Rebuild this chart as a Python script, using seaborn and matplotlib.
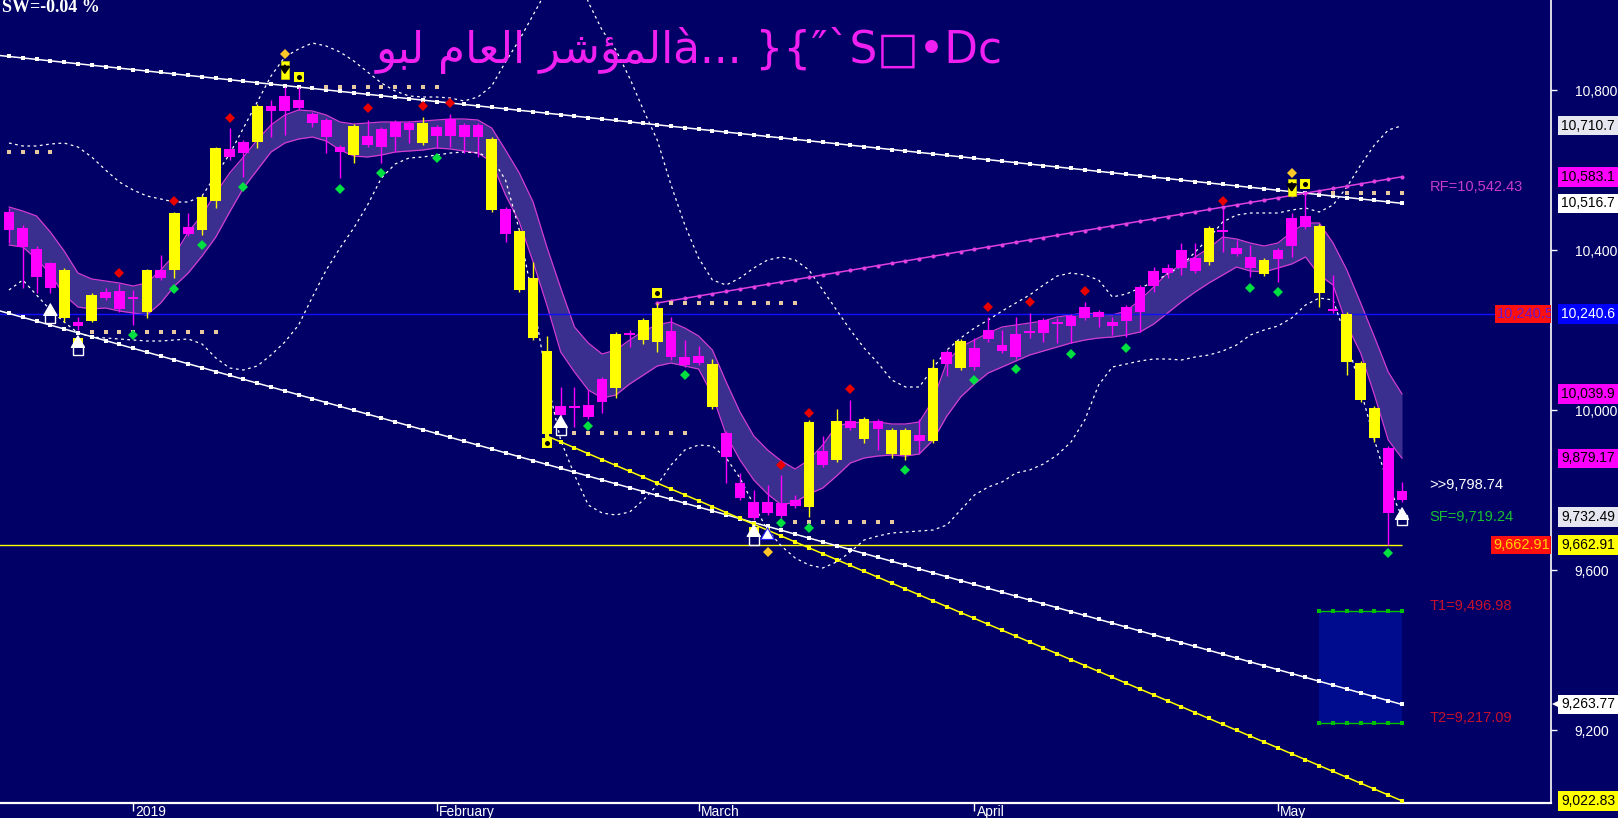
import numpy as np
import pandas as pd
import matplotlib
matplotlib.use("Agg")
import matplotlib.pyplot as plt
import matplotlib.transforms as mtrans
from matplotlib.patches import Rectangle
import seaborn as sns

# ---------------- data ----------------
opens = [10495, 10455, 10402.5, 10367.5, 10230, 10220, 10222.5, 10295, 10297.5, 10282.5,
         10245, 10350, 10350, 10457.5, 10450, 10522.5, 10652.5, 10670, 10670, 10760,
         10785, 10775, 10740, 10725, 10657.5, 10637.5, 10685, 10702.5, 10720, 10717.5,
         10667.5, 10707.5, 10727.5, 10712.5, 10712.5, 10500, 10502.5, 10300, 10180, 9940,
         10010, 10007.5, 10012.5, 10077.5, 10055, 10190, 10175, 10170, 10197.5, 10132.5,
         10135, 10007.5, 9942.5, 9817.5, 9770, 9770, 9767.5, 9775, 9757.5, 9897.5,
         9875, 9972.5, 9927.5, 9972.5, 9890, 9887.5, 9937.5, 9922.5, 10145, 10105,
         10155, 10200, 10162.5, 10190, 10197.5, 10225, 10217.5, 10235, 10257.5, 10245,
         10220, 10257.5, 10307.5, 10347.5, 10355, 10400, 10380, 10370, 10450, 10405,
         10382.5, 10340, 10400, 10480, 10485, 10292.5, 10252.5, 10120, 10025, 9930,
         9905, 9798.74]
highs = [10505, 10462.5, 10410, 10370, 10355, 10232.5, 10292.5, 10305, 10315, 10300,
         10352.5, 10387.5, 10495, 10492.5, 10537.5, 10657.5, 10705, 10675, 10765, 10775,
         10807.5, 10807.5, 10745, 10730, 10662.5, 10715, 10725, 10707.5, 10725, 10722.5,
         10732.5, 10712.5, 10740, 10717.5, 10717.5, 10682.5, 10507.5, 10452.5, 10370, 10185,
         10057.5, 10057.5, 10050, 10082.5, 10195, 10200, 10230, 10267.5, 10232.5, 10175,
         10160, 10127.5, 9947.5, 9842.5, 9800, 9812.5, 9837.5, 9787.5, 9975, 9935,
         10002.5, 10025, 9982.5, 9977.5, 9955, 9955, 9977.5, 10127.5, 10150, 10177.5,
         10180, 10232.5, 10200, 10232.5, 10242.5, 10230, 10230, 10240, 10270, 10250,
         10232.5, 10262.5, 10312.5, 10357.5, 10365, 10417.5, 10417.5, 10460, 10505, 10425,
         10412.5, 10380, 10405, 10492.5, 10542.43, 10465, 10337.5, 10245, 10122.5, 10010,
         9910, 9820]
lows = [10417.5, 10305, 10292.5, 10292.5, 10220, 10200, 10220, 10275, 10245, 10212.5,
        10230, 10325, 10330, 10435, 10437.5, 10505, 10625, 10582.5, 10655, 10682.5,
        10687.5, 10750, 10707.5, 10642.5, 10580, 10617.5, 10657.5, 10617.5, 10645, 10667.5,
        10662.5, 10655, 10657.5, 10642.5, 10632.5, 10495, 10420, 10295, 10175, 9935,
        9982.5, 9957.5, 9977.5, 9992.5, 10030, 10157.5, 10165, 10145, 10125, 10107.5,
        10112.5, 10002.5, 9817.5, 9775, 9725, 9737.5, 9730, 9755, 9732.5, 9857.5,
        9870, 9950, 9917.5, 9900, 9880, 9875, 9892.5, 9917.5, 10085, 10100,
        10100, 10170, 10142.5, 10127.5, 10180, 10170, 10167.5, 10167.5, 10225, 10207.5,
        10187.5, 10182.5, 10195, 10295, 10330, 10337.5, 10342.5, 10362.5, 10395, 10385,
        10332.5, 10335, 10320, 10382.5, 10452.5, 10257.5, 10242.5, 10087.5, 10020, 9920,
        9662.91, 9770]
closes = [10450, 10407.5, 10332.5, 10305, 10350, 10210, 10287.5, 10280, 10252.5, 10277.5,
          10350, 10330, 10492.5, 10440, 10532.5, 10655, 10632.5, 10642.5, 10760, 10747.5,
          10747.5, 10755, 10717.5, 10682.5, 10645, 10710, 10662.5, 10657.5, 10682.5, 10700,
          10717.5, 10685, 10685, 10682.5, 10682.5, 10677.5, 10440, 10447.5, 10330, 10147.5,
          9987.5, 10005, 9982.5, 10020, 10190, 10187.5, 10225, 10255, 10132.5, 10112.5,
          10117.5, 10115, 9882.5, 9780, 9730, 9742.5, 9735, 9760, 9970, 9862.5,
          9972.5, 9955, 9977.5, 9952.5, 9950, 9950, 9922.5, 10105, 10115, 10172.5,
          10107.5, 10177.5, 10147.5, 10132.5, 10192.5, 10192.5, 10215, 10210, 10230, 10232.5,
          10210, 10222.5, 10245, 10310, 10342.5, 10355, 10347.5, 10455, 10445, 10390,
          10355, 10375, 10377.5, 10410, 10457.5, 10460, 10247.5, 10240, 10117.5, 10005,
          9742.5, 9775]

env_upper = [10507.5, 10497.5, 10485, 10445, 10397.5, 10342.5, 10327.5, 10322.5, 10317.5, 10310,
             10317.5, 10350, 10387.5, 10445, 10487.5, 10542.5, 10592.5, 10632.5, 10675, 10712.5,
             10737.5, 10750, 10747.5, 10737.5, 10720, 10715, 10717.5, 10720, 10720, 10720,
             10722.5, 10725, 10727.5, 10727.5, 10725, 10705, 10650, 10592.5, 10520, 10407.5,
             10305, 10207.5, 10167.5, 10140, 10150, 10175, 10197.5, 10212.5, 10220, 10205,
             10185, 10150, 10070, 9995, 9935, 9900, 9872.5, 9852.5, 9875, 9912.5,
             9960, 9967.5, 9970, 9970, 9965, 9965, 9970, 10025, 10120, 10157.5,
             10175, 10192.5, 10207.5, 10212.5, 10217.5, 10222.5, 10232.5, 10237.5, 10242.5, 10240,
             10237.5, 10247.5, 10275, 10307.5, 10342.5, 10362.5, 10382.5, 10405, 10432.5, 10427.5,
             10417.5, 10410, 10417.5, 10445, 10467.5, 10467.5, 10417.5, 10350, 10267.5, 10182.5,
             10095, 10039.9]
env_lower = [10412.5, 10407.5, 10377.5, 10340, 10287.5, 10257.5, 10252.5, 10255, 10247.5, 10242.5,
             10237.5, 10267.5, 10310, 10342.5, 10385, 10432.5, 10495, 10555, 10600, 10645,
             10667.5, 10677.5, 10682.5, 10672.5, 10650, 10635, 10632.5, 10637.5, 10645, 10647.5,
             10650, 10655, 10652.5, 10647.5, 10642.5, 10620, 10537.5, 10470, 10370, 10262.5,
             10145, 10095, 10050, 10030, 10037.5, 10065, 10087.5, 10110, 10117.5, 10110,
             10102.5, 10037.5, 9937.5, 9875, 9825, 9790, 9762.5, 9770, 9790, 9805,
             9835, 9867.5, 9880, 9885, 9887.5, 9885, 9890, 9925, 9985, 10032.5,
             10065, 10092.5, 10107.5, 10122.5, 10137.5, 10147.5, 10157.5, 10167.5, 10175, 10180,
             10182.5, 10187.5, 10195, 10215, 10242.5, 10270, 10295, 10317.5, 10337.5, 10357.5,
             10347.5, 10345, 10355, 10365, 10382.5, 10337.5, 10312.5, 10212.5, 10142.5, 10037.5,
             9925, 9879.17]
bb_upper = [10667.5, 10660, 10660, 10665, 10667.5, 10657.5, 10632.5, 10600, 10570, 10550,
            10535, 10527.5, 10520, 10520, 10535, 10587.5, 10640, 10705, 10770, 10835,
            10882.5, 10902.5, 10917.5, 10910, 10895, 10872.5, 10845, 10817.5, 10797.5, 10785,
            10782.5, 10782.5, 10780, 10772.5, 10782.5, 10810, 10870, 10925, 10987.5, 11050,
            11112.5, 11125, 11020, 10950, 10900, 10830, 10750, 10675, 10562.5, 10462.5,
            10380, 10325, 10312.5, 10330, 10355, 10375, 10382.5, 10375, 10350, 10300,
            10250, 10200, 10155, 10117.5, 10075, 10057.5, 10057.5, 10105, 10150, 10180,
            10205, 10225, 10247.5, 10267.5, 10287.5, 10312.5, 10335, 10342.5, 10337.5, 10325,
            10282.5, 10290, 10305, 10320, 10340, 10360, 10395, 10430, 10470, 10487.5,
            10492.5, 10492.5, 10492.5, 10500, 10505, 10495, 10512.5, 10557.5, 10612.5, 10662.5,
            10700, 10710.7]
bb_lower = [10300, 10325, 10287.5, 10250, 10220, 10192.5, 10182.5, 10180, 10177.5, 10175,
            10172.5, 10172.5, 10175, 10177.5, 10165, 10130, 10105, 10100, 10110, 10137.5,
            10170, 10212.5, 10282.5, 10350, 10405, 10455, 10512.5, 10580, 10615, 10630,
            10632.5, 10637.5, 10642.5, 10645, 10642.5, 10630, 10575, 10450, 10275, 10075,
            9925, 9837.5, 9762.5, 9742.5, 9737.5, 9745, 9775, 9812.5, 9862.5, 9900,
            9912.5, 9910, 9880, 9830, 9762.5, 9700, 9660, 9630, 9612.5, 9605,
            9620, 9645, 9675, 9685, 9692.5, 9695, 9697.5, 9700, 9712.5, 9750,
            9787.5, 9807.5, 9820, 9842.5, 9850, 9865, 9887.5, 9920, 9975, 10062.5,
            10107.5, 10115, 10122.5, 10127.5, 10127.5, 10125, 10132.5, 10137.5, 10147.5, 10162.5,
            10187.5, 10200, 10210, 10230, 10262.5, 10280, 10275, 10175, 10050, 9925,
            9812.5, 9732.49]

month_labels = ["2019", "February", "March", "April", "May"]
month_bars = [9, 31, 50, 70, 92]
price_ticks = [9200, 9600, 10000, 10400, 10800]

top_line_bars, top_line_vals = [-1, 101], [10887.4, 10516.7]
low_line_bars, low_line_vals = [-1, 101], [10251.0, 9263.77]
yel_line_bars, yel_line_vals = [39, 101], [9935.0, 9022.83]
mag_line_bars, mag_line_vals = [47, 101], [10267.5, 10583.1]

blue_level = 10240.6
low_level = 9662.91
red_tag_value = 10240.5

sr_start = [0, 6, 23, 41, 48, 57, 96]
sr_end = [3, 15, 31, 49, 57, 64, 101]
sr_level = [10645, 10195, 10807.5, 9942.5, 10267.5, 9719.24, 10542.43]

red_bars = [8, 12, 16, 26, 30, 32, 56, 58, 61, 71, 74, 78, 88]
red_vals = [10342.5, 10522.5, 10730, 10755, 10760, 10767.5, 9862.5, 9992.5, 10052.5,
            10257.5, 10270, 10297.5, 10522.5]
green_bars = [9, 12, 14, 17, 24, 27, 31, 42, 49, 56, 58, 65, 70, 73, 77, 81, 90, 92, 100]
green_vals = [10187.5, 10302.5, 10412.5, 10557.5, 10552.5, 10592.5, 10630, 9960, 10087.5,
              9717.5, 9705, 9850, 10075, 10102.5, 10140, 10155, 10305, 10295, 9642.5]
orange_bars = [20, 55, 93]
orange_vals = [10890, 9645, 10592.5]

sell_bars = [20, 93]
sell_vals = [10850, 10556]
dotbox_bars = [21, 94, 47, 39, 5, 54]
dotbox_vals = [10832.5, 10565, 10292.5, 9917.5, 10167.5, 9695]
uparrow_bars = [3, 5, 40, 54, 55, 101]
uparrow_tips = [10272.5, 10192.5, 9992.5, 9720, 9712.5, 9762.5]
openbox_bars = [3, 5, 40, 54, 101]
openbox_vals = [10230, 10150, 9950, 9675, 9725]

target_bars = [95, 101]
rf_value, last_value, sf_value, t1_value, t2_value = 10542.43, 9798.74, 9719.24, 9496.98, 9217.09
sw_text = "SW=-0.04 %"
# Arabic title stored in display (shaped, visual) order
title_text = ("\uFEEE\uFE92\uFEDF \uFEE1\uFE8E\uFECC\uFEDF\uFE8D "
              "\uFEAE\uFEB7\uFE86\uFEE4\uFEDF\uFE8D" "\u00e0... }{\u2033`S\u25a1\u2022Dc")

# ---------------- styling ----------------
navy = "#000066"
sns.set_theme(style="dark", rc={"axes.facecolor": navy, "figure.facecolor": navy,
                                "savefig.facecolor": navy, "axes.grid": False})
plt.rcParams["font.family"] = ["Liberation Sans", "DejaVu Sans"]

W, H = 1618, 818
fig = plt.figure(figsize=(W / 100, H / 100), dpi=100)
ax = fig.add_axes([0, 15 / H, 1551 / W, 803 / H])
ax.set_facecolor(navy)
ax.set_xlim(-0.65, 111.8)
ax.set_ylim(9017.5, 11025)

n = len(closes)
bars = np.arange(n)
df = pd.DataFrame({"bar": bars, "open": opens, "high": highs, "low": lows, "close": closes,
                   "env_upper": env_upper, "env_lower": env_lower,
                   "bb_upper": bb_upper, "bb_lower": bb_lower})

# envelope band
ax.fill_between(df["bar"], df["env_lower"], df["env_upper"], color="#3a2e8e", lw=0, zorder=1)
for col in ["env_upper", "env_lower"]:
    sns.lineplot(data=df, x="bar", y=col, ax=ax, color="#d23cd2", lw=0.9, zorder=2)
# bollinger (dotted white)
for col in ["bb_upper", "bb_lower"]:
    sns.lineplot(data=df, x="bar", y=col, ax=ax, color="white", lw=0.9,
                 linestyle=(0, (2.2, 2.8)), zorder=3)

# horizontal levels
ax.axhline(blue_level, color="#1010ff", lw=1.0, zorder=2)
ax.hlines(low_level, -1, bars[-1], color="#ffff00", lw=1.0, zorder=2)

# target zone
ax.fill_between(target_bars, t2_value, t1_value, color="#000c8e", lw=0, zorder=1)
tb = np.arange(target_bars[0], target_bars[1] + 1)
for v in [t1_value, t2_value]:
    sns.lineplot(x=tb, y=np.full(len(tb), v), ax=ax, color="#00c000", lw=1.0,
                 marker="s", markersize=2.6, markeredgewidth=0, zorder=4)

# trend lines with bar dots
def trend(b, v, color, marker, ms):
    xs = np.arange(b[0], b[1] + 1)
    ys = np.linspace(v[0], v[1], len(xs))
    sns.lineplot(x=xs, y=ys, ax=ax, color=color, lw=1.1, marker=marker,
                 markersize=ms, markeredgewidth=0, zorder=4)

trend(top_line_bars, top_line_vals, "white", "s", 2.6)
trend(low_line_bars, low_line_vals, "white", "s", 2.6)
trend(yel_line_bars, yel_line_vals, "#ffff00", "s", 2.6)
trend(mag_line_bars, mag_line_vals, "#e040e0", "o", 3.0)

# support / resistance dots
for s, e, lv in zip(sr_start, sr_end, sr_level):
    xs = np.arange(s, e + 1)
    ax.plot(xs, np.full(len(xs), lv), ls="none", marker="s", ms=3.2, mew=0,
            color="#e8c8a0", zorder=4)

# candles
o = np.array(opens); c = np.array(closes)
cols = np.where(c >= o, "#ffff00", "#ff00ff")
ax.vlines(bars, lows, highs, colors=cols, lw=1.0, zorder=5)
body_b = np.minimum(o, c)
body_h = np.maximum(np.abs(c - o), 4.0)
ax.bar(bars, body_h, bottom=body_b, width=0.78, color=cols, lw=0, zorder=6)

# fractal dots
ax.plot(red_bars, red_vals, ls="none", marker="D", ms=4.6, mew=0, color="#e80000", zorder=7)
ax.plot(green_bars, green_vals, ls="none", marker="D", ms=4.6, mew=0, color="#00e040", zorder=7)
ax.plot(orange_bars, orange_vals, ls="none", marker="D", ms=4.6, mew=0, color="#ffc828", zorder=7)

# signal symbols
for b, v in zip(sell_bars, sell_vals):
    ax.add_patch(Rectangle((b - 0.3, v - 22), 0.6, 44, facecolor="#ffff00",
                           edgecolor="#c8c800", lw=0.5, zorder=8))
    ax.annotate("", xy=(b, v - 18), xytext=(b, v + 18),
                arrowprops=dict(arrowstyle="-|>,head_width=0.25,head_length=0.35",
                                color="black", lw=1.6), zorder=9)
ax.plot(dotbox_bars, dotbox_vals, ls="none", marker="s", ms=7.5, mew=0, color="#ffff00", zorder=8)
ax.plot(dotbox_bars, dotbox_vals, ls="none", marker="o", ms=3.6, mew=0, color="black", zorder=9)
ax.plot(openbox_bars, openbox_vals, ls="none", marker="s", ms=6.5, mfc="none", mec="white",
        mew=1.0, zorder=8)
for b, v in zip(uparrow_bars, uparrow_tips):
    ec = "#2020ff" if b == 55 else "white"
    ax.annotate("", xy=(b, v), xytext=(b, v - 34),
                arrowprops=dict(arrowstyle="simple,head_width=0.8,head_length=0.7,tail_width=0.35",
                                facecolor="white", edgecolor=ec, lw=0.8,
                                mutation_scale=12), zorder=9)

# labels inside plot
lab_x = 103.0
for val, txt, colr in [(rf_value, "RF=" + f"{rf_value:,.2f}", "#c83cc8"),
                       (last_value, ">>" + f"{last_value:,.2f}", "white"),
                       (sf_value, "SF=" + f"{sf_value:,.2f}", "#18c030"),
                       (t1_value, "T1=" + f"{t1_value:,.2f}", "#c8102e"),
                       (t2_value, "T2=" + f"{t2_value:,.2f}", "#c8102e")]:
    ax.annotate(txt, xy=(lab_x, val), xytext=(0, 4), textcoords="offset points",
                color=colr, fontsize=10.5, va="center", ha="left", zorder=10)

ax.text(107.88, blue_level, f"{red_tag_value:,.1f}", color="#6a18c8", fontsize=10.5,
        va="center", ha="left", clip_on=True, zorder=10,
        bbox=dict(boxstyle="square,pad=0.15", facecolor="#ff1010", edgecolor="none"))
ax.text(111.75, low_level, f"{low_level:,.2f}", color="#ffd400", fontsize=10.5,
        va="center", ha="right", clip_on=True, zorder=10,
        bbox=dict(boxstyle="square,pad=0.15", facecolor="#ff1010", edgecolor="none"))

# right axis
ax.yaxis.tick_right()
ax.set_yticks(price_ticks)
ax.set_yticklabels([f"{t:,}" for t in price_ticks])
ax.tick_params(axis="y", direction="out", length=4, width=1, colors="white",
               pad=13, labelsize=10, right=True, left=False)
ax.set_xticks(month_bars)
ax.tick_params(axis="x", direction="out", length=6, width=1, colors="white",
               labelbottom=False, bottom=True)
ax.set_xlabel(""); ax.set_ylabel("")
for side in ["left", "top"]:
    ax.spines[side].set_visible(False)
ax.spines["bottom"].set_color("white"); ax.spines["bottom"].set_linewidth(1.6)
ax.spines["right"].set_color("white"); ax.spines["right"].set_linewidth(1.2)
ax.grid(False)

def short(v):
    return f"{v:,.1f}" if v >= 10000 else f"{v:,.2f}"

trans_r = mtrans.blended_transform_factory(ax.transAxes, ax.transData)
right_vals = [bb_upper[-1], mag_line_vals[-1], top_line_vals[-1], blue_level, env_upper[-1],
              env_lower[-1], bb_lower[-1], low_level, low_line_vals[-1], yel_line_vals[-1]]
right_face = ["#e6e6f0", "#ff00ff", "#ffffff", "#0000ff", "#ff00ff", "#ff00ff",
              "#e6e6f0", "#ffff00", "#ffffff", "#ffff00"]
right_txt = ["black", "black", "black", "white", "black", "black", "black", "black",
             "black", "black"]
for v, fc, tc in zip(right_vals, right_face, right_txt):
    ax.text(1.0066, v, short(v), transform=trans_r, color=tc, fontsize=10,
            va="center", ha="left", clip_on=False, zorder=10,
            bbox=dict(boxstyle="square,pad=0.2", facecolor=fc, edgecolor="none"))
ax.plot([1.0040], [low_line_vals[-1]], transform=trans_r, marker="<", ms=7, mew=0,
        color="white", clip_on=False, zorder=10)

# month labels
trans_b = mtrans.blended_transform_factory(ax.transData, ax.transAxes)
for b, lab in zip(month_bars, month_labels):
    ax.text(b + 0.15, -0.002, lab, transform=trans_b, color="white", fontsize=10,
            family=["Liberation Sans Narrow", "Liberation Sans"], va="top", ha="left",
            clip_on=False)

# texts at top
fig.text(0.001, 1 - 12 / H, sw_text, color="white", fontsize=13, fontweight="bold",
         family=["Liberation Serif", "DejaVu Serif"], va="baseline", ha="left")
fig.text(376 / W, 1 - 63 / H, title_text, color="#f020f0", fontsize=31.5,
         family=["DejaVu Sans"], va="baseline", ha="left")

fig.savefig("out.png", dpi=100, facecolor=navy)
